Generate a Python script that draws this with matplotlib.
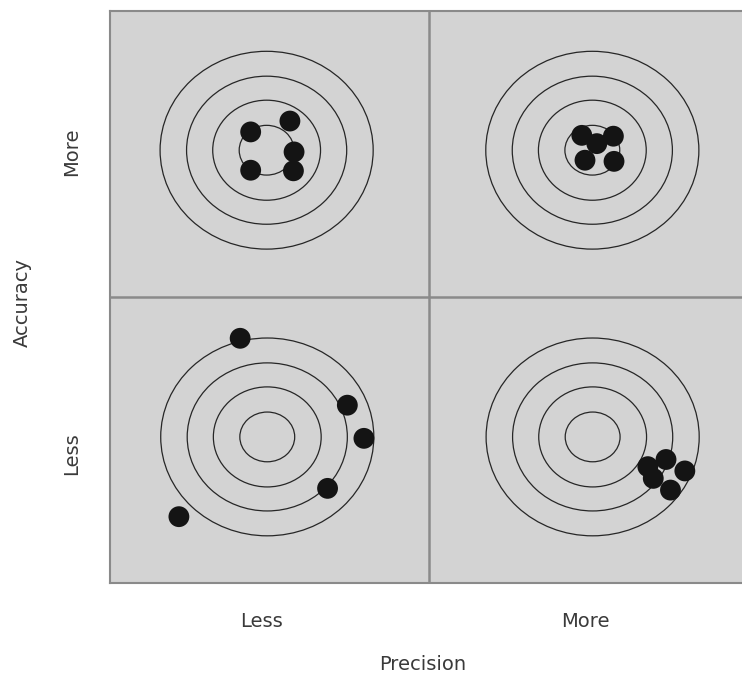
import matplotlib.pyplot as plt
import numpy as np
from matplotlib.patches import Ellipse

#--- Target layout (panel units: each panel is 1 x 1)
panel_names = ['more_acc_less_prec', 'more_acc_more_prec',
               'less_acc_less_prec', 'less_acc_more_prec']
center_x = [0.491, 1.512, 0.493, 1.513]
center_y = [1.513, 1.513, 0.510, 0.510]
ring_rx = [0.334, 0.251, 0.169, 0.086]
ring_ry = [0.346, 0.259, 0.175, 0.087]

#--- Shots in each panel
shots_x = {
    'more_acc_less_prec': [0.441, 0.564, 0.577, 0.441, 0.575],
    'more_acc_more_prec': [1.479, 1.578, 1.526, 1.489, 1.580],
    'less_acc_less_prec': [0.408, 0.744, 0.796, 0.682, 0.216],
    'less_acc_more_prec': [1.686, 1.743, 1.802, 1.703, 1.757],
}
shots_y = {
    'more_acc_less_prec': [1.577, 1.615, 1.507, 1.443, 1.441],
    'more_acc_more_prec': [1.565, 1.562, 1.536, 1.478, 1.474],
    'less_acc_less_prec': [0.855, 0.621, 0.505, 0.330, 0.231],
    'less_acc_more_prec': [0.406, 0.431, 0.391, 0.365, 0.324],
}

x_ticks = [0.475, 1.49]
x_ticklabels = ['Less', 'More']
y_ticks = [0.45, 1.506]
y_ticklabels = ['Less', 'More']

plt.rcParams['font.family'] = ['DejaVu Sans']
text_col = '#3a3a3a'
edge_col = '#8a8a8a'

fig = plt.figure(figsize=(7.42, 6.74), dpi=100)
# right panel runs past the picture edge, as in the original
ax = fig.add_axes([110/742, 91.3/674, 638/742, 571.7/674])
ax.set_xlim(0, 2)
ax.set_ylim(0, 2)
ax.set_facecolor('#d3d3d3')
for s in ax.spines.values():
    s.set_color(edge_col)
    s.set_linewidth(1.5)

ax.axvline(1, color=edge_col, lw=1.8)
ax.axhline(1, color=edge_col, lw=1.8)

for i, name in enumerate(panel_names):
    for rx, ry in zip(ring_rx, ring_ry):
        ax.add_patch(Ellipse((center_x[i], center_y[i]), 2*rx, 2*ry,
                             fill=False, edgecolor='#262626', lw=0.9, zorder=2))
    ax.scatter(shots_x[name], shots_y[name], s=225, color='#141414',
               edgecolors='none', zorder=3)

ax.set_xticks(x_ticks)
ax.set_xticklabels(x_ticklabels)
ax.set_yticks(y_ticks)
ax.set_yticklabels(y_ticklabels, rotation=90, va='center')
ax.tick_params(length=0, labelsize=14, labelcolor=text_col, pad=21)

fig.text(422.5/742, 1 - 665/674, 'Precision', ha='center', va='center',
         fontsize=14, color=text_col)
fig.text(22/742, 1 - 303/674, 'Accuracy', ha='center', va='center',
         rotation=90, fontsize=14, color=text_col)

fig.savefig('out.png', dpi=100)
